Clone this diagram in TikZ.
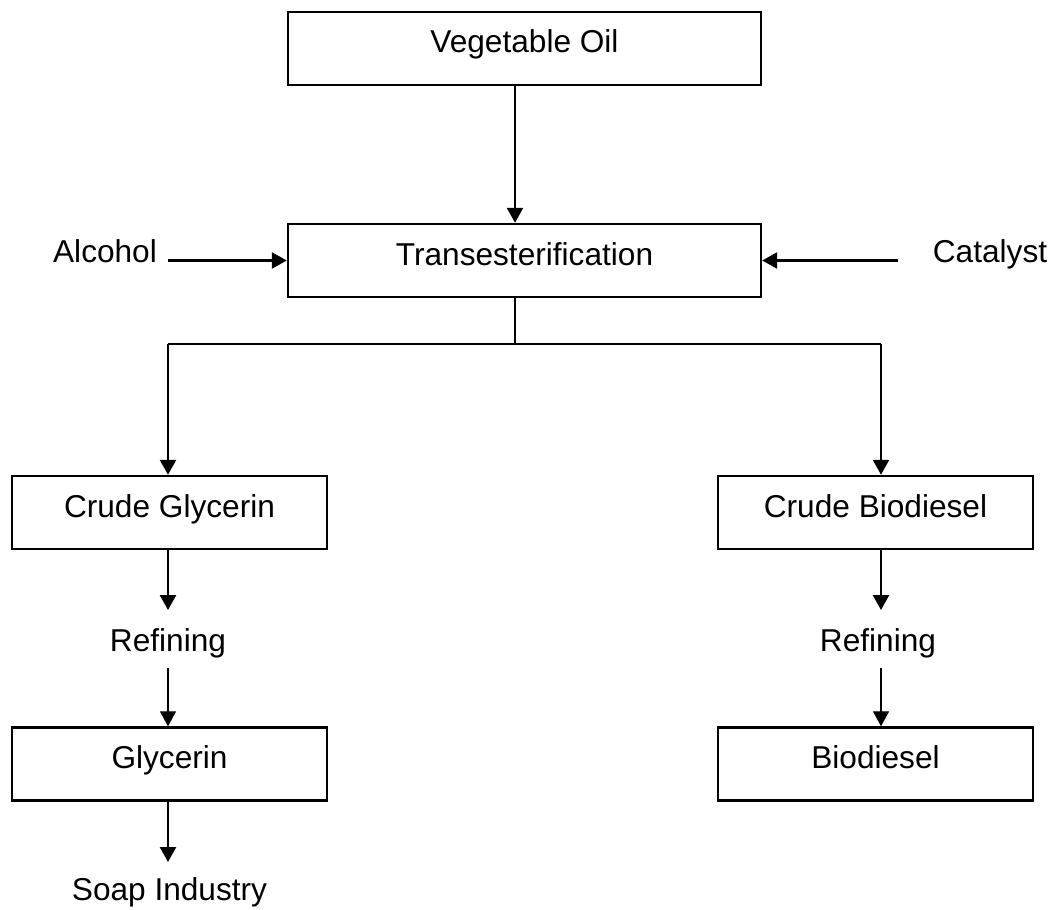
\documentclass[tikz,border=0pt]{standalone}
\usepackage{fontspec}
\setmainfont{Liberation Sans}
\usetikzlibrary{arrows.meta}

\tikzset{
    procbox/.style={draw, line width=1.4pt, minimum height=1.46cm, inner sep=0pt, text height=0.46cm, text depth=0.28cm, font=\fontsize{18}{22}\selectfont},
    lbl/.style={font=\fontsize{18}{22}\selectfont},
    arr/.style={-{Triangle[length=0.3cm,width=0.32cm]}, line width=1.4pt},
    thinarr/.style={-{Triangle[length=0.3cm,width=0.32cm]}, line width=0.8pt}
}

\begin{document}
\begin{tikzpicture}[x=0.02cm,y=-0.02cm]
            \useasboundingbox (0,0) rectangle (1050,909);

            \node[procbox, minimum width=9.46cm] (veg) at (524.5,48.5) {Vegetable Oil};
            \node[procbox, minimum width=9.46cm] (trans) at (524.5,260.5) {Transesterification};
            \node[lbl, anchor=base] (alc) at (105,262) {Alcohol};
            \node[lbl, anchor=base] (cat) at (990,262) {Catalyst};
            \node[procbox, minimum width=6.3cm] (cgly) at (169.5,512.5) {Crude Glycerin};
            \node[procbox, minimum width=6.3cm] (cbio) at (875.5,512.5) {Crude Biodiesel};
            \node[lbl, anchor=base] (ref1) at (168,651) {Refining};
            \node[lbl, anchor=base] (ref2) at (878,651) {Refining};
            \node[procbox, minimum width=6.3cm] (gly) at (169.5,764) {Glycerin};
            \node[procbox, minimum width=6.3cm] (bio) at (875.5,764) {Biodiesel};
            \node[lbl, anchor=base] (soap) at (169.5,900) {Soap Industry};

            \coordinate (spine) at (515,344);
            \coordinate (jl) at (168,344);
            \coordinate (jr) at (881,344);
            \coordinate (alcout) at (168,260.5);
            \coordinate (catin) at (898,260.5);

            % feed and inputs
            \draw[arr] (veg.south -| spine) -- (trans.north -| spine);
            \draw[arr] (alcout) -- (trans.west);
            \draw[arr] (catin) -- (trans.east);

            % split
            \draw[line width=1.4pt] (trans.south -| spine) -- (spine);
            \draw[line width=1.4pt] (jl) -- (jr);
            \draw[arr] (jl) -- (cgly.north -| jl);
            \draw[arr] (jr) -- (cbio.north -| jr);

            % glycerin side
            \draw[arr] (cgly.south -| jl) -- (jl |- 0,610);
            \draw[thinarr] (jl |- 0,668) -- (gly.north -| jl);
            \draw[arr] (gly.south -| jl) -- (jl |- 0,862);

            % biodiesel side
            \draw[arr] (cbio.south -| jr) -- (jr |- 0,610);
            \draw[thinarr] (jr |- 0,668) -- (bio.north -| jr);
\end{tikzpicture}
\end{document}
